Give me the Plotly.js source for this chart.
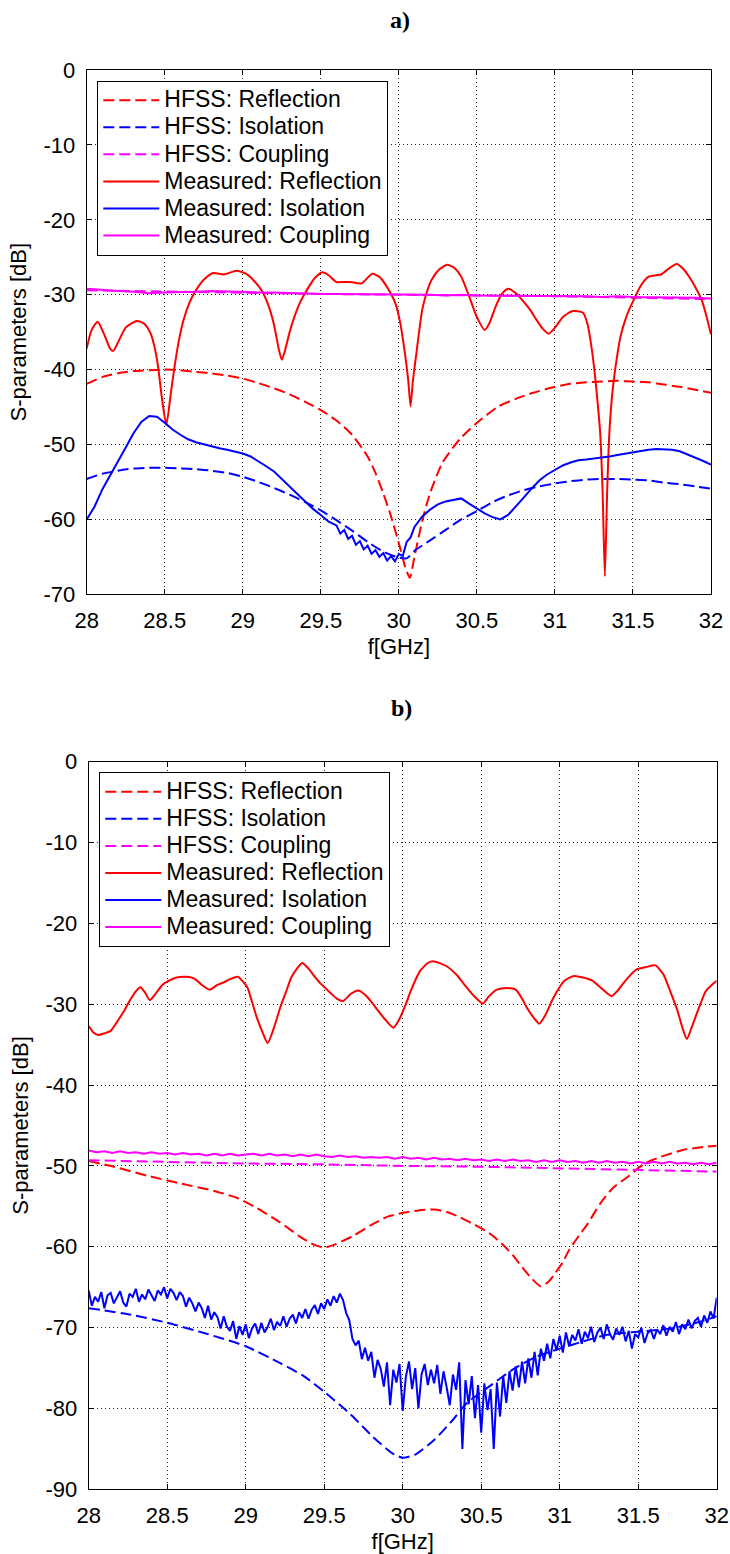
<!DOCTYPE html>
<html>
<head>
<meta charset="utf-8">
<script src="https://cdn.plot.ly/plotly-3.0.1.min.js"></script>
<style>html,body{margin:0;padding:0;background:#fff;}#chart{width:730px;height:1554px;}</style>
</head>
<body>
<div id="chart"></div>
<script>
// ---------- Tick labels ----------
const xTicks = [28, 28.5, 29, 29.5, 30, 30.5, 31, 31.5, 32];
const xTickText = ['28', '28.5', '29', '29.5', '30', '30.5', '31', '31.5', '32'];
const yTicksA = [0, -10, -20, -30, -40, -50, -60, -70];
const yTickTextA = ['0', '-10', '-20', '-30', '-40', '-50', '-60', '-70'];
const yTicksB = [0, -10, -20, -30, -40, -50, -60, -70, -80, -90];
const yTickTextB = ['0', '-10', '-20', '-30', '-40', '-50', '-60', '-70', '-80', '-90'];
const seriesNames = ['HFSS: Reflection', 'HFSS: Isolation', 'HFSS: Coupling',
  'Measured: Reflection', 'Measured: Isolation', 'Measured: Coupling'];

// ---------- Panel a) ----------
const fHfssReflA = [28.00,28.10,28.20,28.30,28.40,28.50,28.60,28.70,28.80,28.90,29.00,29.10,29.20,29.30,29.40,29.50,29.60,29.70,29.80,29.85,29.90,29.95,30.00,30.04,30.07,30.10,30.15,30.20,30.28,30.39,30.50,30.64,30.75,30.86,31.00,31.10,31.20,31.30,31.40,31.50,31.60,31.70,31.80,31.90,32.00];
const dbHfssReflA = [-41.9,-41.0,-40.5,-40.2,-40.1,-40.0,-40.1,-40.3,-40.5,-40.8,-41.2,-41.8,-42.5,-43.3,-44.3,-45.4,-46.8,-48.7,-51.6,-53.8,-56.5,-59.6,-63.2,-66.3,-67.8,-65.0,-60.2,-56.5,-52.4,-49.3,-47.1,-44.9,-43.9,-43.1,-42.3,-41.9,-41.7,-41.6,-41.5,-41.6,-41.7,-42.0,-42.3,-42.7,-43.1];

const fHfssIsoA = [28.00,28.10,28.20,28.30,28.40,28.50,28.60,28.70,28.80,28.90,29.00,29.10,29.20,29.30,29.40,29.50,29.60,29.70,29.80,29.90,30.00,30.05,30.10,30.20,30.30,30.40,30.50,30.60,30.70,30.80,30.90,31.00,31.10,31.20,31.30,31.40,31.50,31.60,31.70,31.80,31.90,32.00];
const dbHfssIsoA = [-54.6,-53.9,-53.5,-53.2,-53.1,-53.1,-53.2,-53.3,-53.5,-53.8,-54.3,-55.0,-55.8,-56.7,-57.7,-58.8,-60.1,-61.5,-63.0,-64.3,-65.1,-65.2,-64.2,-62.8,-61.4,-60.0,-58.9,-57.7,-56.8,-56.1,-55.6,-55.2,-54.9,-54.7,-54.6,-54.6,-54.7,-54.8,-55.1,-55.3,-55.6,-55.9];

const fHfssCoupA = [28.0,28.5,29.0,29.5,30.0,30.5,31.0,31.5,32.0];
const dbHfssCoupA = [-29.4,-29.6,-29.7,-29.9,-30.0,-30.1,-30.2,-30.4,-30.6];

const fMeasReflA = [28.00,28.03,28.07,28.11,28.15,28.17,28.20,28.25,28.32,28.37,28.41,28.44,28.46,28.48,28.51,28.54,28.56,28.59,28.62,28.66,28.70,28.75,28.81,28.88,28.96,29.02,29.07,29.12,29.16,29.20,29.23,29.25,29.27,29.30,29.33,29.37,29.41,29.46,29.51,29.55,29.60,29.65,29.69,29.76,29.83,29.88,29.95,29.98,30.01,30.04,30.06,30.075,30.09,30.11,30.15,30.18,30.21,30.26,30.31,30.36,30.40,30.45,30.50,30.55,30.58,30.62,30.66,30.70,30.75,30.79,30.84,30.88,30.92,30.96,31.00,31.05,31.11,31.18,31.21,31.23,31.25,31.27,31.29,31.305,31.32,31.335,31.35,31.37,31.40,31.42,31.46,31.50,31.55,31.60,31.65,31.68,31.73,31.78,31.82,31.86,31.90,31.94,31.97,32.00];
const dbMeasReflA = [-37.2,-34.8,-33.6,-35.2,-37.2,-37.5,-36.4,-34.4,-33.5,-33.9,-35.2,-37.5,-40.0,-43.5,-47.4,-43.0,-40.0,-36.2,-33.4,-31.0,-29.4,-28.0,-27.1,-27.3,-26.8,-27.2,-28.1,-29.4,-31.2,-34.0,-37.2,-38.7,-37.5,-35.0,-33.0,-30.9,-29.4,-27.8,-27.0,-27.4,-28.3,-28.3,-28.3,-28.5,-27.2,-27.7,-29.9,-31.3,-33.9,-38.0,-41.4,-44.9,-41.5,-38.2,-32.0,-29.6,-28.0,-26.6,-26.0,-26.5,-27.6,-30.2,-33.0,-34.7,-33.8,-31.6,-29.9,-29.2,-29.8,-30.7,-32.0,-33.3,-34.5,-35.2,-34.4,-33.0,-32.2,-32.4,-34.0,-36.4,-39.5,-43.6,-48.5,-56.0,-67.6,-56.0,-48.0,-42.7,-38.0,-35.6,-32.8,-30.9,-28.8,-27.6,-27.4,-27.3,-26.5,-25.9,-26.5,-27.6,-29.0,-30.7,-32.8,-35.3];

const fMeasIsoA = [28.00,28.05,28.10,28.15,28.20,28.25,28.30,28.35,28.40,28.45,28.50,28.55,28.60,28.65,28.70,28.75,28.80,28.85,28.90,28.95,29.00,29.05,29.10,29.15,29.20,29.25,29.30,29.35,29.40,29.45,29.50,29.55,29.60,29.625,29.65,29.675,29.70,29.725,29.75,29.775,29.80,29.825,29.85,29.875,29.90,29.925,29.95,29.975,30.00,30.025,30.05,30.075,30.10,30.15,30.20,30.25,30.30,30.35,30.40,30.45,30.50,30.55,30.60,30.65,30.70,30.75,30.80,30.85,30.90,30.95,31.00,31.05,31.10,31.15,31.20,31.25,31.30,31.35,31.40,31.45,31.50,31.55,31.60,31.65,31.70,31.75,31.80,31.85,31.90,31.95,32.00];
const dbMeasIsoA = [-60.0,-58.3,-56.0,-54.2,-52.2,-50.4,-48.5,-47.0,-46.2,-46.3,-47.1,-48.0,-48.7,-49.3,-49.7,-50.0,-50.3,-50.5,-50.7,-50.9,-51.2,-51.6,-52.2,-52.9,-53.6,-54.6,-55.6,-56.7,-57.6,-58.6,-59.4,-60.3,-60.8,-61.9,-61.4,-62.6,-62.2,-63.4,-62.9,-64.0,-63.5,-64.6,-64.1,-65.0,-64.5,-65.5,-64.9,-65.6,-64.6,-64.9,-63.0,-62.4,-61.0,-59.6,-58.7,-58.0,-57.6,-57.4,-57.2,-57.9,-58.6,-59.2,-59.7,-60.0,-59.4,-58.3,-57.1,-55.9,-54.8,-54.0,-53.4,-52.8,-52.4,-52.1,-52.0,-51.9,-51.8,-51.6,-51.4,-51.2,-51.0,-50.8,-50.7,-50.6,-50.6,-50.7,-50.9,-51.3,-51.7,-52.2,-52.7];

const fMeasCoupA = [28.0,28.1,28.2,28.3,28.4,28.5,28.6,28.7,28.8,28.9,29.0,29.1,29.2,29.3,29.4,29.5,29.6,29.7,29.8,29.9,30.0,30.1,30.2,30.3,30.4,30.5,30.6,30.7,30.8,30.9,31.0,31.1,31.2,31.3,31.4,31.5,31.6,31.7,31.8,31.9,32.0];
const dbMeasCoupA = [-29.2,-29.4,-29.5,-29.6,-29.8,-29.7,-29.6,-29.6,-29.5,-29.6,-29.6,-29.7,-29.7,-29.8,-29.8,-29.9,-29.9,-29.9,-30.0,-30.0,-30.0,-30.0,-30.0,-30.1,-30.0,-30.1,-30.1,-30.1,-30.2,-30.1,-30.2,-30.2,-30.2,-30.3,-30.2,-30.3,-30.3,-30.4,-30.4,-30.4,-30.5];

// ---------- Panel b) ----------
const fHfssReflB = [28.00,28.16,28.37,28.59,28.80,28.95,29.07,29.22,29.35,29.43,29.50,29.57,29.69,29.80,29.90,30.00,30.10,30.20,30.28,30.36,30.45,30.55,30.63,30.70,30.76,30.82,30.88,30.93,30.97,31.02,31.06,31.12,31.18,31.26,31.34,31.43,31.54,31.64,31.79,31.90,32.00];
const dbHfssReflB = [-49.4,-50.1,-51.2,-52.2,-53.1,-54.0,-55.2,-57.0,-58.8,-59.7,-60.1,-59.7,-58.6,-57.3,-56.3,-55.8,-55.5,-55.4,-55.7,-56.3,-57.2,-58.3,-59.6,-61.0,-62.5,-63.9,-64.9,-64.3,-63.3,-61.9,-60.4,-58.7,-57.1,-54.6,-52.7,-51.4,-49.7,-48.9,-48.0,-47.7,-47.5];

const fHfssIsoB = [28.00,28.27,28.50,28.74,29.00,29.22,29.37,29.51,29.66,29.81,29.93,30.00,30.08,30.20,30.32,30.41,30.55,30.70,30.85,31.00,31.15,31.30,31.50,31.71,31.89,32.00];
const dbHfssIsoB = [-67.6,-68.4,-69.4,-70.7,-72.3,-74.4,-76.0,-78.1,-80.6,-83.5,-85.5,-86.1,-85.7,-83.9,-81.4,-79.3,-77.3,-75.2,-73.6,-72.6,-71.7,-70.9,-70.5,-70.1,-69.3,-68.6];

const fHfssCoupB = [28.0,28.5,29.0,29.5,30.0,30.5,31.0,31.5,32.0];
const dbHfssCoupB = [-49.3,-49.5,-49.7,-49.8,-50.0,-50.1,-50.3,-50.5,-50.7];

const fMeasReflB = [28.00,28.03,28.06,28.10,28.14,28.18,28.22,28.26,28.30,28.33,28.36,28.39,28.43,28.47,28.50,28.56,28.62,28.67,28.72,28.77,28.82,28.86,28.90,28.95,29.01,29.04,29.07,29.11,29.14,29.18,29.22,29.26,29.29,29.33,29.36,29.40,29.44,29.47,29.54,29.58,29.62,29.67,29.72,29.77,29.82,29.88,29.94,29.98,30.02,30.05,30.11,30.16,30.20,30.28,30.34,30.39,30.45,30.51,30.55,30.60,30.66,30.72,30.76,30.79,30.84,30.87,30.91,30.96,31.03,31.09,31.15,31.21,31.27,31.33,31.37,31.41,31.45,31.49,31.55,31.61,31.66,31.70,31.75,31.78,31.81,31.84,31.88,31.93,31.97,32.00];
const dbMeasReflB = [-32.7,-33.5,-33.8,-33.6,-33.3,-32.2,-31.0,-29.6,-28.4,-27.9,-28.6,-29.5,-28.6,-27.6,-27.2,-26.7,-26.6,-26.8,-27.6,-28.2,-27.6,-27.3,-26.9,-26.6,-27.9,-29.7,-31.6,-33.6,-34.8,-32.9,-30.4,-28.3,-26.7,-25.5,-24.9,-25.6,-26.6,-27.3,-28.6,-29.3,-29.6,-28.7,-28.3,-29.0,-30.2,-31.7,-32.9,-31.8,-30.0,-28.4,-25.9,-24.9,-24.7,-25.3,-26.3,-27.5,-28.9,-29.9,-29.0,-28.2,-28.0,-28.2,-29.3,-30.4,-31.8,-32.4,-31.3,-29.2,-27.1,-26.5,-26.7,-27.1,-28.1,-29.0,-28.3,-27.3,-26.4,-25.7,-25.4,-25.2,-26.3,-28.2,-30.8,-32.8,-34.3,-32.9,-30.8,-28.4,-27.6,-27.1];

const fMeasIsoB = [
  28.00,28.02,28.04,28.06,28.08,28.10,28.12,28.14,28.16,28.18,
  28.20,28.22,28.24,28.26,28.28,28.30,28.32,28.34,28.36,28.38,
  28.40,28.42,28.44,28.46,28.48,28.50,28.52,28.54,28.56,28.58,
  28.60,28.62,28.64,28.66,28.68,28.70,28.72,28.74,28.76,28.78,
  28.80,28.82,28.84,28.86,28.88,28.90,28.92,28.94,28.96,28.98,
  29.00,29.02,29.04,29.06,29.08,29.10,29.12,29.14,29.16,29.18,
  29.20,29.22,29.24,29.26,29.28,29.30,29.32,29.34,29.36,29.38,
  29.40,29.42,29.44,29.46,29.48,29.50,29.52,29.54,29.56,29.58,
  29.60,29.62,29.64,29.66,29.68,29.70,29.72,29.74,29.76,29.78,
  29.80,29.82,29.84,29.86,29.88,29.90,29.92,29.94,29.96,29.98,
  30.00,30.02,30.04,30.06,30.08,30.10,30.12,30.14,30.16,30.18,
  30.20,30.22,30.24,30.26,30.28,30.30,30.32,30.34,30.36,30.38,
  30.40,30.42,30.44,30.46,30.48,30.50,30.52,30.54,30.56,30.58,
  30.60,30.62,30.64,30.66,30.68,30.70,30.72,30.74,30.76,30.78,
  30.80,30.82,30.84,30.86,30.88,30.90,30.92,30.94,30.96,30.98,
  31.00,31.02,31.04,31.06,31.08,31.10,31.12,31.14,31.16,31.18,
  31.20,31.22,31.24,31.26,31.28,31.30,31.32,31.34,31.36,31.38,
  31.40,31.42,31.44,31.46,31.48,31.50,31.52,31.54,31.56,31.58,
  31.60,31.62,31.64,31.66,31.68,31.70,31.72,31.74,31.76,31.78,
  31.80,31.82,31.84,31.86,31.88,31.90,31.92,31.94,31.96,31.98,
  32.00];
const dbMeasIsoB = [
  -65.4,-67.3,-66.2,-66.8,-65.6,-67.6,-66.0,-65.7,-67.0,-66.3,
  -65.5,-66.9,-67.4,-65.8,-66.2,-65.2,-66.8,-65.9,-66.5,-65.3,
  -66.1,-66.7,-65.4,-65.9,-65.0,-66.4,-65.2,-65.7,-66.6,-65.6,
  -66.1,-67.4,-66.3,-67.0,-68.0,-66.9,-67.6,-68.8,-67.3,-69.0,
  -68.1,-68.7,-70.1,-68.6,-69.9,-70.4,-69.2,-71.4,-69.8,-70.9,
  -69.6,-71.3,-70.1,-69.5,-70.8,-69.4,-70.6,-69.9,-68.9,-70.3,
  -69.3,-69.8,-68.6,-69.9,-68.9,-68.4,-69.5,-68.1,-68.8,-67.7,
  -68.9,-67.8,-67.2,-68.3,-67.0,-67.7,-66.5,-67.3,-66.1,-66.9,
  -65.8,-66.6,-68.2,-69.1,-71.4,-72.2,-71.6,-73.9,-72.5,-74.1,
  -73.0,-76.2,-74.0,-75.1,-77.3,-74.3,-79.6,-75.2,-76.8,-74.5,
  -80.3,-76.1,-74.2,-77.6,-75.0,-80.0,-75.8,-74.5,-77.1,-75.2,
  -76.9,-74.6,-78.2,-75.4,-77.4,-79.6,-75.8,-77.7,-74.3,-85.0,
  -76.5,-79.5,-76.0,-81.2,-77.1,-83.0,-76.9,-80.2,-77.6,-85.0,
  -76.8,-81.0,-76.0,-79.3,-75.4,-77.8,-74.8,-77.4,-74.2,-76.9,
  -73.8,-76.2,-73.0,-75.9,-72.6,-74.1,-72.0,-73.8,-71.4,-72.8,
  -71.0,-73.1,-70.6,-72.3,-70.9,-71.6,-70.2,-72.0,-70.5,-71.3,
  -69.9,-71.8,-70.6,-70.0,-71.4,-69.6,-70.8,-71.5,-70.1,-70.9,
  -69.9,-71.7,-70.4,-72.6,-70.8,-71.2,-70.0,-71.9,-70.7,-70.3,
  -71.4,-70.2,-70.8,-69.7,-71.0,-69.9,-70.5,-69.3,-70.8,-69.6,
  -70.2,-69.0,-70.1,-69.2,-68.8,-69.9,-68.5,-69.4,-68.0,-68.9,
  -66.3];

const fMeasCoupB = [28.00,28.05,28.10,28.15,28.20,28.25,28.30,28.35,28.40,28.45,28.50,28.55,28.60,28.65,28.70,28.75,28.80,28.85,28.90,28.95,29.00,29.05,29.10,29.15,29.20,29.25,29.30,29.35,29.40,29.45,29.50,29.55,29.60,29.65,29.70,29.75,29.80,29.85,29.90,29.95,30.00,30.05,30.10,30.15,30.20,30.25,30.30,30.35,30.40,30.45,30.50,30.55,30.60,30.65,30.70,30.75,30.80,30.85,30.90,30.95,31.00,31.05,31.10,31.15,31.20,31.25,31.30,31.35,31.40,31.45,31.50,31.55,31.60,31.65,31.70,31.75,31.80,31.85,31.90,31.95,32.00];
const dbMeasCoupB = [-48.1,-48.3,-48.2,-48.4,-48.2,-48.4,-48.3,-48.5,-48.3,-48.5,-48.4,-48.6,-48.4,-48.6,-48.5,-48.7,-48.5,-48.7,-48.5,-48.7,-48.6,-48.5,-48.7,-48.5,-48.7,-48.6,-48.8,-48.6,-48.8,-48.6,-48.8,-48.9,-48.7,-48.9,-48.8,-49.0,-48.9,-49.0,-48.9,-49.1,-48.9,-49.1,-49.0,-49.2,-49.0,-49.2,-49.1,-49.3,-49.1,-49.3,-49.2,-49.4,-49.2,-49.4,-49.2,-49.4,-49.3,-49.5,-49.3,-49.5,-49.3,-49.5,-49.4,-49.6,-49.4,-49.6,-49.4,-49.6,-49.5,-49.7,-49.5,-49.7,-49.5,-49.7,-49.5,-49.7,-49.6,-49.8,-49.6,-49.8,-49.6];

// ---------- Styling ----------
const RED = '#ff0000', BLUE = '#0000ff', MAG = '#ff00ff';
const FONT = 'Liberation Sans, Arial, Helvetica, sans-serif';
const DASH = '11px,5px';
const W = 730, H = 1554;

function tr(x, y, name, color, dash, panel, smooth, group) {
  const t = {
    x: x, y: y, type: 'scatter', mode: 'lines',
    name: '<span style="font-size:23px">' + name + '</span>',
    line: {color: color, width: 2, dash: dash, shape: smooth ? 'spline' : 'linear', smoothing: 0.6},
    legendgroup: panel + group, showlegend: true,
    hoverinfo: 'skip'
  };
  if (panel === 'b') { t.xaxis = 'x2'; t.yaxis = 'y2'; t.legend = 'legend2'; }
  return t;
}

const data = [
  tr(fHfssReflA, dbHfssReflA, seriesNames[0], RED, DASH, 'a', true, 1),
  tr(fHfssIsoA, dbHfssIsoA, seriesNames[1], BLUE, DASH, 'a', true, 2),
  tr(fHfssCoupA, dbHfssCoupA, seriesNames[2], MAG, DASH, 'a', false, 3),
  tr(fMeasReflA, dbMeasReflA, seriesNames[3], RED, 'solid', 'a', true, 4),
  tr(fMeasIsoA, dbMeasIsoA, seriesNames[4], BLUE, 'solid', 'a', false, 5),
  tr(fMeasCoupA, dbMeasCoupA, seriesNames[5], MAG, 'solid', 'a', false, 6),
  tr(fHfssReflB, dbHfssReflB, seriesNames[0], RED, DASH, 'b', true, 1),
  tr(fHfssIsoB, dbHfssIsoB, seriesNames[1], BLUE, DASH, 'b', true, 2),
  tr(fHfssCoupB, dbHfssCoupB, seriesNames[2], MAG, DASH, 'b', false, 3),
  tr(fMeasReflB, dbMeasReflB, seriesNames[3], RED, 'solid', 'b', true, 4),
  tr(fMeasIsoB, dbMeasIsoB, seriesNames[4], BLUE, 'solid', 'b', false, 5),
  tr(fMeasCoupB, dbMeasCoupB, seriesNames[5], MAG, 'solid', 'b', false, 6)
];

function xAxis(domainPx, anchor) {
  return {
    domain: [domainPx[0] / W, domainPx[1] / W], anchor: anchor,
    range: [28, 32], tickvals: xTicks, ticktext: xTickText,
    showline: true, linecolor: '#000', linewidth: 1, mirror: 'ticks',
    ticks: 'inside', ticklen: 5, tickcolor: '#000', tickwidth: 1,
    showgrid: true, gridcolor: '#222', gridwidth: 1, griddash: '1px,3px',
    zeroline: false, ticklabelstandoff: 6,
    tickfont: {family: FONT, size: 22, color: '#000'},
    title: {text: 'f[GHz]', font: {family: FONT, size: 22, color: '#000'}, standoff: 6}
  };
}
function yAxis(domainPx, anchor, range, vals, text) {
  return {
    domain: [1 - domainPx[1] / H, 1 - domainPx[0] / H], anchor: anchor,
    range: range, tickvals: vals, ticktext: text,
    showline: true, linecolor: '#000', linewidth: 1, mirror: 'ticks',
    ticks: 'inside', ticklen: 5, tickcolor: '#000', tickwidth: 1,
    showgrid: true, gridcolor: '#222', gridwidth: 1, griddash: '1px,3px',
    zeroline: false, ticklabelstandoff: 6,
    tickfont: {family: FONT, size: 22, color: '#000'},
    title: {text: 'S-parameters [dB]', font: {family: FONT, size: 22, color: '#000'}, standoff: 10}
  };
}
function legendBox(xPx, yPx) {
  return {
    x: xPx / W, y: 1 - yPx / H, xanchor: 'left', yanchor: 'top',
    bgcolor: '#fff', bordercolor: '#000', borderwidth: 1,
    font: {family: FONT, size: 18.5, color: '#000'},
    itemwidth: 56, tracegroupgap: 0, traceorder: 'normal', itemclick: false
  };
}

const layout = {
  width: W, height: H,
  margin: {l: 0, r: 0, t: 0, b: 0},
  paper_bgcolor: '#fff', plot_bgcolor: '#fff',
  showlegend: true,
  xaxis: xAxis([86.7, 711], 'y'),
  yaxis: yAxis([70, 594.3], 'x', [-70, 0], yTicksA, yTickTextA),
  xaxis2: xAxis([88.7, 716.7], 'y2'),
  yaxis2: yAxis([761.7, 1489.3], 'x2', [-90, 0], yTicksB, yTickTextB),
  legend: legendBox(97.3, 80.7),
  legend2: legendBox(99.3, 772.3),
  annotations: [
    {text: '<b>a)</b>', xref: 'paper', yref: 'paper', x: 400 / W, y: 1 - 20 / H, showarrow: false,
     xanchor: 'center', yanchor: 'middle', font: {family: 'Liberation Serif, Times New Roman, serif', size: 24, color: '#000'}},
    {text: '<b>b)</b>', xref: 'paper', yref: 'paper', x: 402 / W, y: 1 - 708 / H, showarrow: false,
     xanchor: 'center', yanchor: 'middle', font: {family: 'Liberation Serif, Times New Roman, serif', size: 24, color: '#000'}}
  ]
};

Plotly.newPlot('chart', data, layout, {displayModeBar: false, staticPlot: true});
</script>
</body>
</html>
